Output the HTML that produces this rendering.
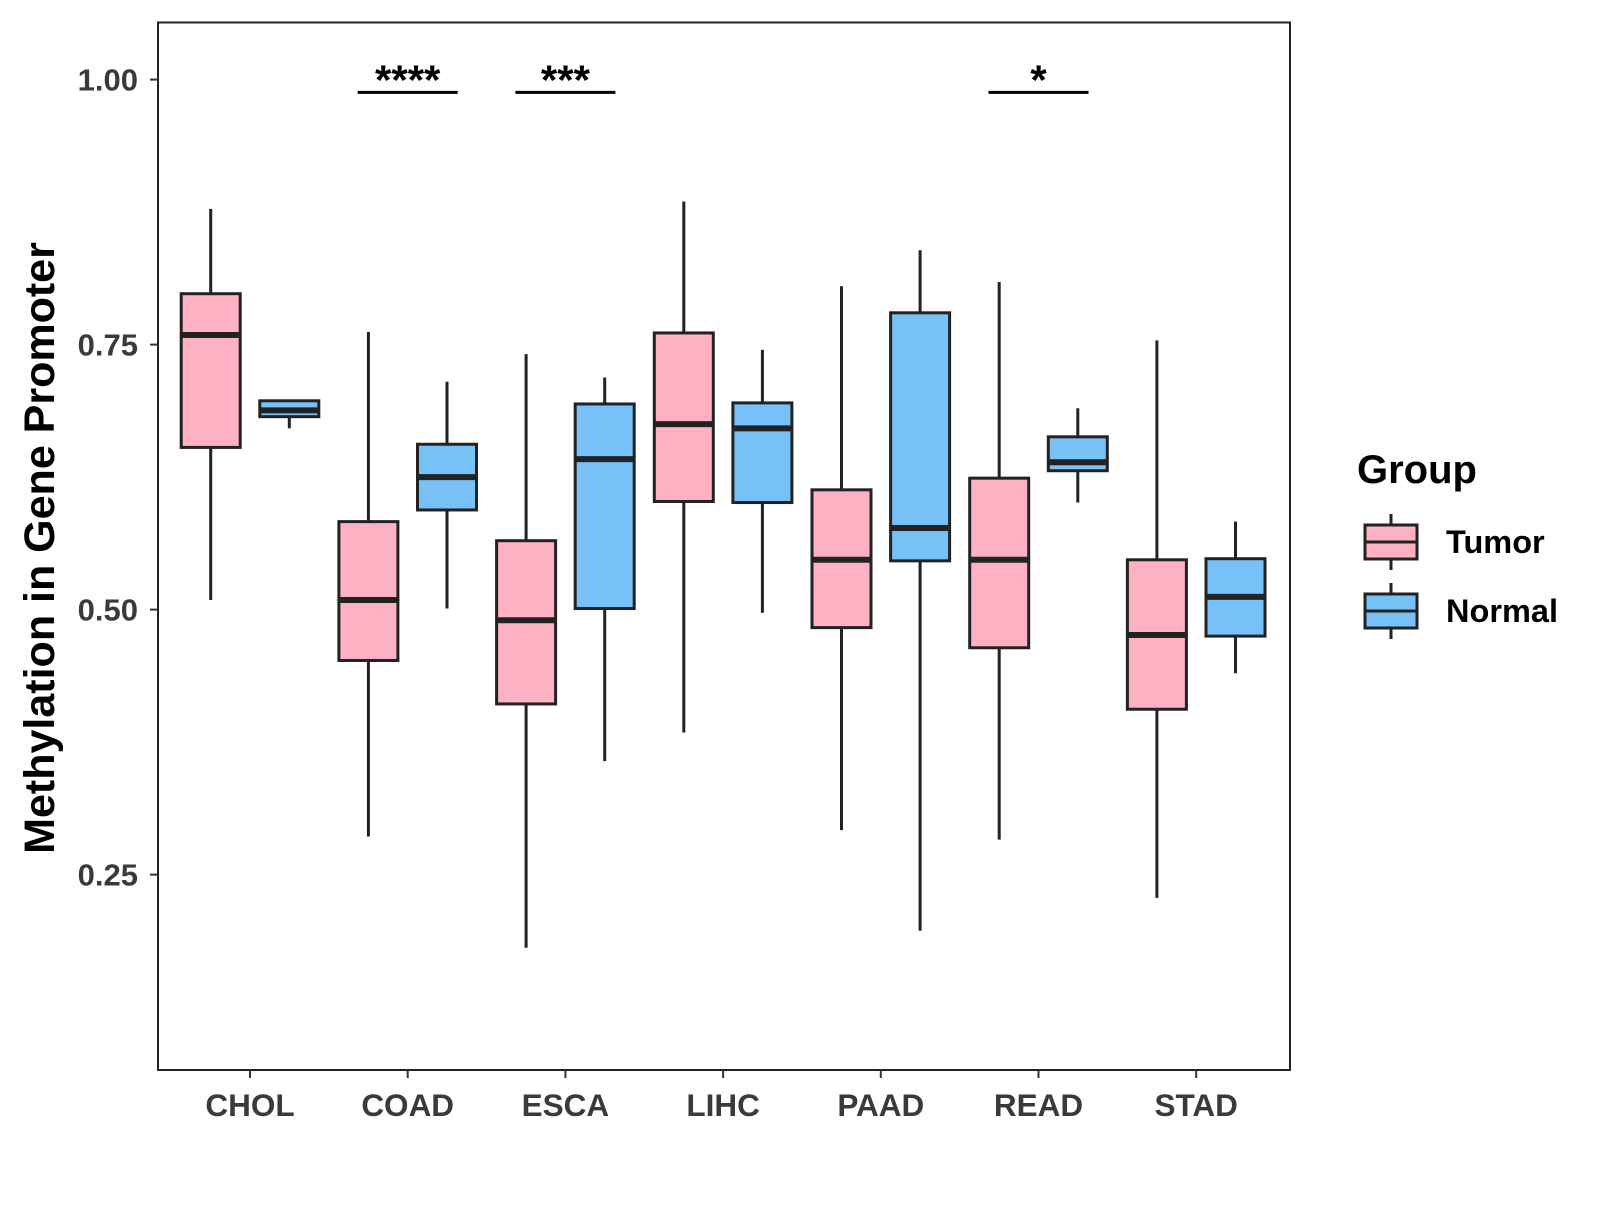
<!DOCTYPE html>
<html><head><meta charset="utf-8"><style>
body{margin:0;background:#fff;}
svg text{font-family:"Liberation Sans",Arial,sans-serif;font-weight:bold;}
</style></head><body>
<svg id="chart" width="1600" height="1200" xmlns="http://www.w3.org/2000/svg"></svg>
<script>
const categories=["CHOL","COAD","ESCA","LIHC","PAAD","READ","STAD"];
const tumorStats=[[0.509,0.653,0.759,0.798,0.878],[0.286,0.452,0.509,0.583,0.762],[0.181,0.411,0.490,0.565,0.741],[0.384,0.602,0.675,0.761,0.885],[0.292,0.483,0.547,0.613,0.805],[0.283,0.464,0.547,0.624,0.809],[0.228,0.406,0.476,0.547,0.754]];
const normalStats=[[0.671,0.682,0.688,0.697,0.697],[0.501,0.594,0.625,0.656,0.715],[0.357,0.501,0.642,0.694,0.719],[0.497,0.601,0.671,0.695,0.745],[0.197,0.546,0.577,0.780,0.839],[0.601,0.631,0.639,0.663,0.690],[0.440,0.475,0.512,0.548,0.583]];
const yTicks=[0.25,0.50,0.75,1.00];
const yTickLabels=["0.25","0.50","0.75","1.00"];
const sigCategories=["COAD","ESCA","READ"];
const sigLabels=["****","***","*"];
const sigLevel=0.988;
const svg=document.getElementById('chart');
const NS="http://www.w3.org/2000/svg";
const L=158,T=22.5,R=1290,B=1070;
const y=v=>79.6+(1-v)*1060;
const x=i=>250+i*157.7;
const off=39.3,bw=59;
function mk(tag,attrs,parent){const e=document.createElementNS(NS,tag);for(const k in attrs)e.setAttribute(k,attrs[k]);(parent||svg).appendChild(e);return e;}
const panel=mk('rect',{x:L,y:T,width:R-L,height:B-T,fill:'none',stroke:'#222','stroke-width':2});


yTicks.forEach((t,i)=>{
 const g=mk('g',{});
 
 
 mk('line',{x1:L-8,x2:L,y1:y(t),y2:y(t),stroke:'#333','stroke-width':2},g);
 const tx=mk('text',{x:L-20,y:y(t)+11,'text-anchor':'end','font-size':31,fill:'#3a3a3a'},g);tx.textContent=yTickLabels[i];
});
categories.forEach((c,i)=>{
 const g=mk('g',{});
 
 
 mk('line',{x1:x(i),x2:x(i),y1:B,y2:B+8,stroke:'#333','stroke-width':2},g);
 const tx=mk('text',{x:x(i),y:B+46,'text-anchor':'middle','font-size':31.5,fill:'#3a3a3a'},g);tx.textContent=c;
});
function box(cx,s,fill,name){
 const g=mk('g',{});
 
 
 mk('line',{x1:cx,x2:cx,y1:y(s[0]),y2:y(s[4]),stroke:'#222','stroke-width':3},g);
 mk('rect',{x:cx-bw/2,y:y(s[3]),width:bw,height:y(s[1])-y(s[3]),fill:fill,stroke:'#222','stroke-width':3},g);
 mk('line',{x1:cx-bw/2,x2:cx+bw/2,y1:y(s[2]),y2:y(s[2]),stroke:'#222','stroke-width':6},g);
}
categories.forEach((c,i)=>{
 box(x(i)-off,tumorStats[i],'#FEB1C3','box-tumor-'+c.toLowerCase());
 box(x(i)+off,normalStats[i],'#77C1F8','box-normal-'+c.toLowerCase());
});
sigCategories.forEach((c,k)=>{
 const i=categories.indexOf(c);
 const g=mk('g',{});
 
 
 mk('line',{x1:x(i)-50,x2:x(i)+50,y1:y(sigLevel),y2:y(sigLevel),stroke:'#000','stroke-width':3},g);
 const tx=mk('text',{x:x(i),y:y(sigLevel)+2,'text-anchor':'middle','font-size':42,fill:'#000'},g);tx.textContent=sigLabels[k];
});
const yt=mk('text',{x:0,y:0,transform:'translate(54,548) rotate(-90)','text-anchor':'middle','font-size':43,fill:'#000'});
yt.textContent='Methylation in Gene Promoter';


const lg=mk('g',{});


const lt=mk('text',{x:1357,y:483,'font-size':40,fill:'#000'},lg);lt.textContent='Group';
[['Tumor','#FEB1C3',0],['Normal','#77C1F8',1]].forEach(([n,f,k])=>{
 const g=mk('g',{},lg);
 
 
 const cy=542+k*69,cx=1391;
 mk('line',{x1:cx,x2:cx,y1:cy-28,y2:cy+28,stroke:'#222','stroke-width':3},g);
 mk('rect',{x:cx-26,y:cy-17,width:52,height:34,fill:f,stroke:'#222','stroke-width':3},g);
 mk('line',{x1:cx-26,x2:cx+26,y1:cy,y2:cy,stroke:'#222','stroke-width':3},g);
 const t=mk('text',{x:1446,y:cy+11,'font-size':32.5,fill:'#000'},g);t.textContent=n;
});
</script>
</body></html>
